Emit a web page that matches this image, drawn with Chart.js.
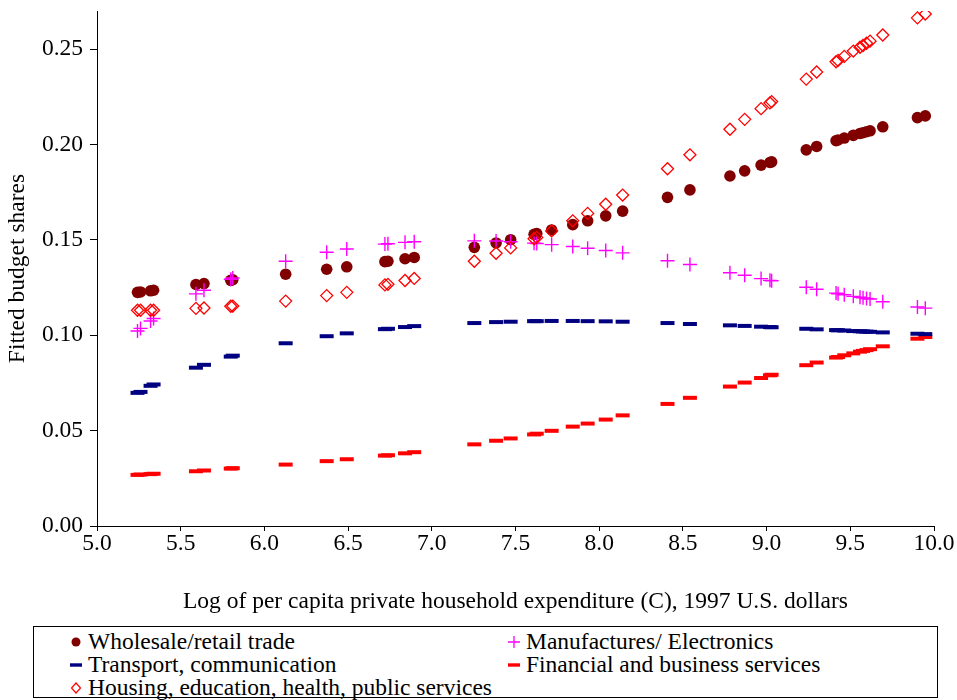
<!DOCTYPE html>
<html>
<head>
<meta charset="utf-8">
<script src="https://cdn.jsdelivr.net/npm/chart.js@4.4.0/dist/chart.umd.min.js"></script>
<style>
  html, body { margin: 0; padding: 0; background: #fff; }
  #wrap { position: relative; width: 957px; height: 700px; }
  #c { position: absolute; left: 0; top: 0; }
  #legend {
    position: absolute; left: 33px; top: 626px; width: 905px; height: 72px;
    border: 1px solid #000; box-sizing: border-box;
    font-family: "Liberation Serif", "Times New Roman", serif; font-size: 23.5px; color: #000;
  }
  .item { position: absolute; white-space: nowrap; height: 22px; line-height: 22px; }
  .item svg { position: absolute; top: 4px; }
  .item span { position: absolute; top: 0; }
</style>
</head>
<body>
<div id="wrap">
  <canvas id="c" width="957" height="620"></canvas>
  <div id="legend"></div>
</div>
<script>
// Log of per capita private household expenditure (x) for each observation
const logExpenditure = [
  5.242, 5.260, 5.320, 5.338, 5.591, 5.639, 5.799, 5.811, 6.127, 6.372,
  6.492, 6.720, 6.738, 6.840, 6.895, 7.254, 7.384, 7.471, 7.611, 7.627,
  7.716, 7.842, 7.931, 8.039, 8.140, 8.408, 8.542, 8.781, 8.869, 8.967,
  9.020, 9.030, 9.237, 9.299, 9.415, 9.427, 9.464, 9.518, 9.558, 9.576,
  9.597, 9.618, 9.694, 9.901, 9.948
];

// Fitted budget shares by sector
const wholesaleRetail = [
  0.1225, 0.1227, 0.1233, 0.1236, 0.1266, 0.1271, 0.1288, 0.1291, 0.1320, 0.1346,
  0.1359, 0.1386, 0.1388, 0.1401, 0.1408, 0.1461, 0.1484, 0.1501, 0.1529, 0.1533,
  0.1552, 0.1580, 0.1600, 0.1626, 0.1651, 0.1723, 0.1762, 0.1835, 0.1862, 0.1892,
  0.1906, 0.1909, 0.1972, 0.1990, 0.2020, 0.2024, 0.2034, 0.2048, 0.2058, 0.2062,
  0.2067, 0.2072, 0.2093, 0.2141, 0.2150
];
const manufactures = [
  0.1022, 0.1036, 0.1075, 0.1088, 0.1217, 0.1236, 0.1294, 0.1300, 0.1388, 0.1435,
  0.1452, 0.1478, 0.1480, 0.1487, 0.1490, 0.1495, 0.1494, 0.1490, 0.1483, 0.1481,
  0.1475, 0.1465, 0.1456, 0.1444, 0.1432, 0.1391, 0.1371, 0.1328, 0.1315, 0.1297,
  0.1288, 0.1286, 0.1252, 0.1241, 0.1221, 0.1218, 0.1212, 0.1204, 0.1199, 0.1196,
  0.1193, 0.1190, 0.1176, 0.1148, 0.1142
];
const transport = [
  0.0698, 0.0703, 0.0735, 0.0742, 0.0830, 0.0845, 0.0888, 0.0893, 0.0958, 0.0995,
  0.1010, 0.1032, 0.1034, 0.1043, 0.1048, 0.1064, 0.1069, 0.1071, 0.1074, 0.1074,
  0.1075, 0.1075, 0.1074, 0.1073, 0.1071, 0.1064, 0.1059, 0.1052, 0.1049, 0.1045,
  0.1043, 0.1042, 0.1034, 0.1031, 0.1027, 0.1026, 0.1025, 0.1022, 0.1021, 0.1020,
  0.1019, 0.1018, 0.1015, 0.1008, 0.1006
];
const financial = [
  0.0268, 0.0270, 0.0272, 0.0274, 0.0287, 0.0291, 0.0301, 0.0303, 0.0322, 0.0340,
  0.0350, 0.0369, 0.0371, 0.0381, 0.0387, 0.0428, 0.0447, 0.0459, 0.0480, 0.0484,
  0.0499, 0.0521, 0.0537, 0.0558, 0.0580, 0.0640, 0.0672, 0.0731, 0.0752, 0.0776,
  0.0790, 0.0793, 0.0843, 0.0857, 0.0883, 0.0886, 0.0895, 0.0905, 0.0914, 0.0918,
  0.0922, 0.0927, 0.0942, 0.0982, 0.0991
];
const housing = [
  0.1131, 0.1131, 0.1131, 0.1131, 0.1141, 0.1143, 0.1152, 0.1153, 0.1179, 0.1208,
  0.1225, 0.1264, 0.1267, 0.1287, 0.1298, 0.1388, 0.1430, 0.1458, 0.1506, 0.1513,
  0.1547, 0.1600, 0.1639, 0.1687, 0.1735, 0.1873, 0.1946, 0.2080, 0.2132, 0.2188,
  0.2218, 0.2225, 0.2343, 0.2380, 0.2434, 0.2441, 0.2462, 0.2490, 0.2510, 0.2519,
  0.2531, 0.2542, 0.2574, 0.2664, 0.2684
];

const seriesNames = [
  "Wholesale/retail trade",
  "Manufactures/ Electronics",
  "Transport, communication",
  "Financial and business services",
  "Housing, education, health, public services"
];
const xTitle = "Log of per capita private household expenditure (C), 1997 U.S. dollars";
const yTitle = "Fitted budget shares";

const SERIF = "'Liberation Serif', 'Times New Roman', serif";
const FONT_SIZE = 23.5;

function points(values) {
  return logExpenditure.map((x, i) => ({ x: x, y: values[i] }));
}

const datasets = [
  { label: seriesNames[4], data: points(housing), pointStyle: 'rectRot', pointRadius: 6,
    borderColor: '#FF0000', backgroundColor: 'rgba(255,255,255,0)', borderWidth: 1.3, order: 0 },
  { label: seriesNames[1], data: points(manufactures), pointStyle: 'cross', pointRadius: 7,
    borderColor: '#FF00FF', backgroundColor: '#FF00FF', borderWidth: 1.4, order: 1 },
  { label: seriesNames[0], data: points(wholesaleRetail), pointStyle: 'circle', pointRadius: 5.8,
    borderColor: '#800000', backgroundColor: '#800000', borderWidth: 0, order: 2 },
  { label: seriesNames[2], data: points(transport), pointStyle: 'line', pointRadius: 7,
    borderColor: '#000080', backgroundColor: '#000080', borderWidth: 4, order: 3 },
  { label: seriesNames[3], data: points(financial), pointStyle: 'line', pointRadius: 7,
    borderColor: '#FF0000', backgroundColor: '#FF0000', borderWidth: 4, order: 3 }
];

new Chart(document.getElementById('c'), {
  type: 'scatter',
  data: { datasets: datasets },
  options: {
    responsive: false,
    animation: false,
    events: [],
    layout: { padding: { top: 8, right: 23, left: 0, bottom: 0 } },
    plugins: { legend: { display: false }, tooltip: { enabled: false } },
    scales: {
      x: {
        type: 'linear', min: 5, max: 10,
        ticks: { stepSize: 0.5, color: '#000', font: { family: SERIF, size: FONT_SIZE, lineHeight: 1 },
                 padding: 1, maxRotation: 0, callback: v => v.toFixed(1) },
        grid: { display: true, drawOnChartArea: false, drawTicks: true, tickLength: 5, color: '#000' },
        border: { display: true, color: '#000', width: 1 },
        title: { display: true, text: xTitle, color: '#000', font: { family: SERIF, size: FONT_SIZE },
                 padding: { top: 0, bottom: 4 } },
        afterFit: s => { s.height = 94; s.paddingLeft = 0; s.paddingRight = 0; }
      },
      y: {
        type: 'linear', min: 0, max: 0.27,
        ticks: { stepSize: 0.05, color: '#000', font: { family: SERIF, size: FONT_SIZE, lineHeight: 0.6 },
                 padding: 7, callback: v => v.toFixed(2) },
        afterBuildTicks: s => {
          s.ticks = s.ticks.filter(t => Math.abs(t.value / 0.05 - Math.round(t.value / 0.05)) < 1e-6);
        },
        grid: { display: true, drawOnChartArea: false, drawTicks: true, tickLength: 7, color: '#000' },
        border: { display: true, color: '#000', width: 1 },
        title: { display: true, text: yTitle, color: '#000', font: { family: SERIF, size: FONT_SIZE },
                 padding: { top: 4, bottom: 0 } },
        afterFit: s => { s.width = 97; s.paddingTop = 0; s.paddingBottom = 0; }
      }
    }
  }
});

// Legend below the plot, two columns
function markerSvg(kind) {
  const s = '<svg style="left:0" width="16" height="16" viewBox="0 0 16 16">';
  let body = '';
  if (kind === 'circle') body = '<circle cx="8" cy="8" r="4.5" fill="#800000"/>';
  if (kind === 'cross') body = '<path d="M2 8H14M8 2V14" stroke="#FF00FF" stroke-width="1.3"/>';
  if (kind === 'navy') body = '<rect x="2" y="6.3" width="12" height="3.4" fill="#000080"/>';
  if (kind === 'red') body = '<rect x="2" y="6.3" width="12" height="3.4" fill="#FF0000"/>';
  if (kind === 'diamond') body = '<path d="M8 3L12.5 8L8 13L3.5 8Z" fill="none" stroke="#FF0000" stroke-width="1.2"/>';
  return s + body + '</svg>';
}
const legendItems = [
  { name: seriesNames[0], kind: 'circle', col: 0, row: 0 },
  { name: seriesNames[1], kind: 'cross', col: 1, row: 0 },
  { name: seriesNames[2], kind: 'navy', col: 0, row: 1 },
  { name: seriesNames[3], kind: 'red', col: 1, row: 1 },
  { name: seriesNames[4], kind: 'diamond', col: 0, row: 2 }
];
const legend = document.getElementById('legend');
legendItems.forEach(it => {
  const d = document.createElement('div');
  d.className = 'item';
  d.style.left = (it.col === 0 ? 34 : 472) + 'px';
  d.style.top = (3 + it.row * 23) + 'px';
  d.innerHTML = markerSvg(it.kind) + '<span style="left:20px">' + it.name + '</span>';
  legend.appendChild(d);
});
</script>
</body>
</html>
